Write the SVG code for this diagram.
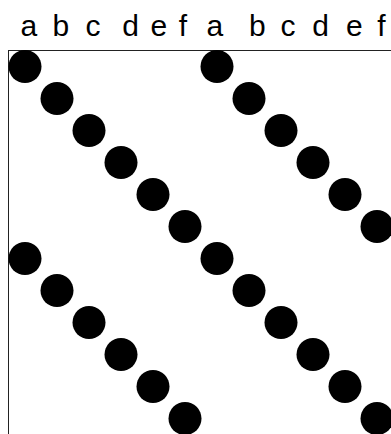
<svg xmlns="http://www.w3.org/2000/svg" width="391" height="434" viewBox="0 0 391 434">
<style>
.lbl{font-family:"Liberation Sans",Arial,sans-serif;font-size:30px;fill:#000}
.dot{fill:#000}
.frame{fill:none;stroke:#222;stroke-width:1}
</style>
<rect width="391" height="434" fill="#fff"/>
<text class="lbl" y="35.5" x="20.5 36 52.4 70 85.5 105 122.2 140 150.5 170 178.8 195 206.5 230 249.1 268 280.5 300 312.2 335 346.1 365 377.2">a b c d e f a b c d e f</text>
<rect class="frame" x="8.5" y="50.5" width="384" height="384"/>
<g id="diag1">
<circle class="dot" cx="25" cy="66.5" r="16.5"/>
<circle class="dot" cx="57" cy="98.5" r="16.5"/>
<circle class="dot" cx="89" cy="130.5" r="16.5"/>
<circle class="dot" cx="121" cy="162.5" r="16.5"/>
<circle class="dot" cx="153" cy="194.5" r="16.5"/>
<circle class="dot" cx="185" cy="226.5" r="16.5"/>
<circle class="dot" cx="217" cy="258.5" r="16.5"/>
<circle class="dot" cx="249" cy="290.5" r="16.5"/>
<circle class="dot" cx="281" cy="322.5" r="16.5"/>
<circle class="dot" cx="313" cy="354.5" r="16.5"/>
<circle class="dot" cx="345" cy="386.5" r="16.5"/>
<circle class="dot" cx="377" cy="418.5" r="16.5"/>
</g>
<g id="diag2">
<circle class="dot" cx="217" cy="66.5" r="16.5"/>
<circle class="dot" cx="249" cy="98.5" r="16.5"/>
<circle class="dot" cx="281" cy="130.5" r="16.5"/>
<circle class="dot" cx="313" cy="162.5" r="16.5"/>
<circle class="dot" cx="345" cy="194.5" r="16.5"/>
<circle class="dot" cx="377" cy="226.5" r="16.5"/>
</g>
<g id="diag3">
<circle class="dot" cx="25" cy="258.5" r="16.5"/>
<circle class="dot" cx="57" cy="290.5" r="16.5"/>
<circle class="dot" cx="89" cy="322.5" r="16.5"/>
<circle class="dot" cx="121" cy="354.5" r="16.5"/>
<circle class="dot" cx="153" cy="386.5" r="16.5"/>
<circle class="dot" cx="185" cy="418.5" r="16.5"/>
</g>
</svg>
